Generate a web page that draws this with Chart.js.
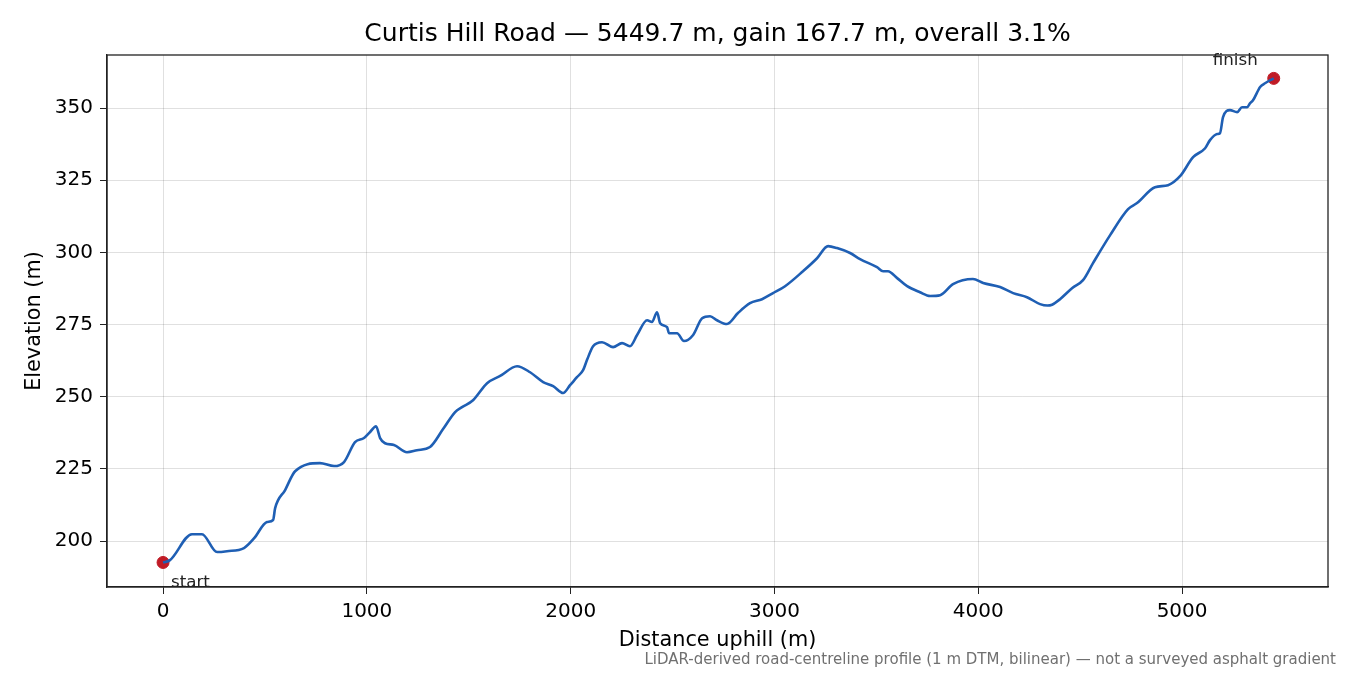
<!DOCTYPE html>
<html>
<head>
<meta charset="utf-8">
<script src="https://cdn.jsdelivr.net/npm/chart.js@4.4.1/dist/chart.umd.min.js"></script>
<style>
  html, body { margin: 0; padding: 0; background: #fff; }
  #wrap { width: 1350px; height: 675px; }
</style>
</head>
<body>
<div id="wrap"><canvas id="profile" width="1350" height="675"></canvas></div>
<script>
// distance along the road (m) and elevation (m)
const distance = [
  0, 34, 142, 191, 265, 314, 397, 447, 510, 540, 550, 599, 648, 770, 839, 888,
  942, 986, 1016, 1045, 1065, 1089, 1133, 1197, 1246, 1310, 1374, 1433, 1467,
  1521, 1590, 1654, 1737, 1801, 1865, 1914, 1963, 1997, 2031, 2061, 2080, 2110,
  2154, 2208, 2252, 2291, 2326, 2375, 2399, 2424, 2439, 2473, 2483, 2522, 2556,
  2601, 2645, 2684, 2718, 2767, 2821, 2880, 2939, 2993, 3052, 3140, 3209, 3263,
  3307, 3371, 3420, 3503, 3533, 3557, 3602, 3651, 3714, 3764, 3813, 3876, 3974,
  4024, 4107, 4171, 4239, 4303, 4340, 4362, 4401, 4460, 4514, 4563, 4647, 4735, 4779,
  4867, 4931, 4990, 5054, 5113, 5137, 5172, 5186, 5201, 5235, 5270, 5294, 5319,
  5334, 5348, 5383, 5407, 5449.7
];
const elevation = [
  192.6, 193.4, 202.4, 202.4, 196.2, 196.5, 197.6, 201.0, 206.6, 207.3, 211.4, 217.7, 224.2, 227.0, 226.0, 227.4,
  234.3, 235.7, 237.8, 239.8, 235.7, 233.9, 233.3, 230.8, 231.5, 232.6, 238.8, 244.7, 246.4,
  248.8, 254.7, 257.2, 260.6, 258.5, 255.1, 253.7, 251.3, 254.0, 256.8, 259.2, 262.7, 267.5,
  268.9, 267.2, 268.6, 267.5, 271.4, 276.5, 275.9, 279.3, 275.5, 274.1, 272.0, 272.0, 269.3,
  271.4, 277.2, 277.9, 276.5, 275.2, 279.0, 282.4, 283.8, 285.9, 288.3, 293.5, 298.0, 302.2,
  301.5, 299.8, 297.7, 294.9, 293.5, 293.5, 291.1, 288.3, 286.2, 284.9, 285.2, 289.0, 290.8,
  289.4, 288.0, 285.9, 284.5, 282.1, 281.6, 281.9, 283.8, 287.6, 290.4, 296.3, 306.0, 315.0, 317.1,
  322.6, 323.3, 326.4, 333.0, 336.1, 338.9, 341.0, 341.3, 346.9, 349.3, 348.6, 350.3, 350.3,
  351.7, 352.7, 357.3, 358.6, 360.3
];
const endLabels = ['start', 'finish'];
const xTicks = [0, 1000, 2000, 3000, 4000, 5000];
const yTicks = [200, 225, 250, 275, 300, 325, 350];

const FONT = 'DejaVu Sans';
const lineBlue = '#1f5fb4';
const markRed = '#c01b26';
const titleText = 'Curtis Hill Road \u2014 5449.7 m, gain 167.7 m, overall 3.1%';
const footnote = 'LiDAR-derived road-centreline profile (1 m DTM, bilinear) \u2014 not a surveyed asphalt gradient';

const profilePoints = distance.map((d, i) => ({ x: d, y: elevation[i] }));
const last = distance.length - 1;
const endPoints = [
  { x: distance[0], y: elevation[0] },
  { x: distance[last], y: elevation[last] }
];

// title over the plot area, frame, start/finish labels and the footnote
const extras = {
  id: 'extras',
  afterDraw(chart) {
    const { ctx, chartArea, scales } = chart;
    ctx.save();
    ctx.strokeStyle = '#222';
    ctx.lineWidth = 1.3;
    ctx.strokeRect(chartArea.left, chartArea.top,
      chartArea.right - chartArea.left, chartArea.bottom - chartArea.top);

    ctx.fillStyle = '#000';
    ctx.font = '25px ' + FONT;
    ctx.textAlign = 'center';
    ctx.textBaseline = 'middle';
    ctx.fillText(titleText, (chartArea.left + chartArea.right) / 2, 34);

    ctx.fillStyle = '#222';
    ctx.font = '16.7px ' + FONT;
    const sx = scales.x.getPixelForValue(endPoints[0].x);
    const sy = scales.y.getPixelForValue(endPoints[0].y);
    ctx.textAlign = 'left';
    ctx.fillText(endLabels[0], sx + 8, sy + 20);
    const fx = scales.x.getPixelForValue(endPoints[1].x);
    const fy = scales.y.getPixelForValue(endPoints[1].y);
    ctx.textAlign = 'right';
    ctx.fillText(endLabels[1], fx - 16, fy - 18);

    ctx.fillStyle = '#707070';
    ctx.font = '15px ' + FONT;
    ctx.textAlign = 'right';
    ctx.fillText(footnote, 1336, 660);
    ctx.restore();
  }
};

new Chart(document.getElementById('profile'), {
  type: 'line',
  data: {
    datasets: [{
      data: profilePoints,
      borderColor: lineBlue,
      borderWidth: 2.6,
      pointRadius: 0,
      cubicInterpolationMode: 'monotone',
      fill: false
    }, {
      type: 'scatter',
      data: endPoints,
      backgroundColor: markRed,
      borderColor: markRed,
      pointRadius: 6
    }]
  },
  options: {
    responsive: false,
    animation: false,
    layout: { padding: { left: 0, right: 22, top: 55, bottom: 0 } },
    plugins: {
      legend: { display: false },
      tooltip: { enabled: false },
      title: { display: false }
    },
    scales: {
      x: {
        type: 'linear',
        min: -275,
        max: 5716,
        afterBuildTicks: (scale) => { scale.ticks = xTicks.map(v => ({ value: v })); },
        afterFit: (scale) => { scale.height = 88; },
        ticks: {
          color: '#000', font: { family: FONT, size: 20 }, padding: 6, maxRotation: 0,
          callback: (v) => String(v)
        },
        grid: { color: 'rgba(0,0,0,0.12)', tickColor: '#222', tickLength: 7 },
        border: { color: '#222', width: 1.3 },
        title: {
          display: true,
          text: 'Distance uphill (m)',
          color: '#000',
          font: { family: FONT, size: 20.8 },
          padding: { bottom: 22 }
        }
      },
      y: {
        type: 'linear',
        min: 184.1,
        max: 368.4,
        afterBuildTicks: (scale) => { scale.ticks = yTicks.map(v => ({ value: v })); },
        afterFit: (scale) => { scale.width = 107; },
        ticks: {
          color: '#000', font: { family: FONT, size: 20 }, padding: 7,
          callback: (v) => String(v)
        },
        grid: { color: 'rgba(0,0,0,0.12)', tickColor: '#222', tickLength: 7 },
        border: { color: '#222', width: 1.3 },
        title: {
          display: true,
          text: 'Elevation (m)',
          color: '#000',
          font: { family: FONT, size: 20.8 },
          padding: { top: 22.5 }
        }
      }
    }
  },
  plugins: [extras]
});
</script>
</body>
</html>
